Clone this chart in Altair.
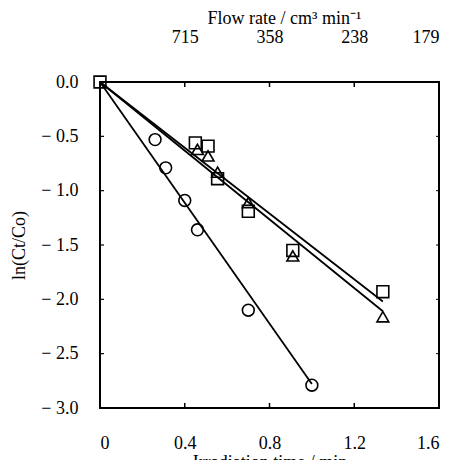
import altair as alt
import pandas as pd

# ---- data ----
circle_t = [0.26, 0.31, 0.40, 0.46, 0.70, 1.00]
circle_y = [-0.53, -0.79, -1.09, -1.36, -2.10, -2.79]

square_t = [0.0, 0.45, 0.51, 0.555, 0.70, 0.91, 1.335]
square_y = [0.0, -0.56, -0.59, -0.89, -1.19, -1.55, -1.93]

triangle_t = [0.46, 0.51, 0.555, 0.70, 0.91, 1.335]
triangle_y = [-0.62, -0.68, -0.83, -1.11, -1.60, -2.16]

fit_series = ["circle", "square", "triangle"]
fit_t_start = [0.0, 0.0, 0.0]
fit_y_start = [0.0, 0.0, 0.0]
fit_t_end = [1.0, 1.335, 1.335]
fit_y_end = [-2.78, -2.02, -2.11]

x_ticks = [0.0, 0.4, 0.8, 1.2, 1.6]
x_tick_labels = ["0", "0.4", "0.8", "1.2", "1.6"]
x_inner_ticks = [0.4, 0.8, 1.2]
y_ticks = [0.0, -0.5, -1.0, -1.5, -2.0, -2.5, -3.0]
y_inner_ticks = [-0.5, -1.0, -1.5, -2.0, -2.5]
flow_tick_t = [0.4, 0.8, 1.2, 1.6]
flow_labels = ["715", "358", "238", "179"]

# ---- tables ----
pts = pd.concat([
    pd.DataFrame({"t": circle_t, "y": circle_y, "s": "circle"}),
    pd.DataFrame({"t": square_t, "y": square_y, "s": "square"}),
    pd.DataFrame({"t": triangle_t, "y": triangle_y, "s": "triangle"}),
], ignore_index=True)

fit_rows = []
for s, t0, y0, t1, y1 in zip(fit_series, fit_t_start, fit_y_start, fit_t_end, fit_y_end):
    fit_rows.append({"s": s, "t": t0, "y": y0, "o": 0})
    fit_rows.append({"s": s, "t": t1, "y": y1, "o": 1})
fits = pd.DataFrame(fit_rows)

xt_df = pd.DataFrame({"t": x_inner_ticks})
yt_df = pd.DataFrame({"y": y_inner_ticks})

W, H = 339, 326
FONT = "Liberation Serif, Times New Roman, serif"
FS = 18

xs = alt.Scale(domain=[0, 1.6], nice=False, zero=False)
ys = alt.Scale(domain=[-3.0, 0.0], nice=False, zero=False)


def lookup_expr(vals, labels):
    expr = "''"
    for v, l in reversed(list(zip(vals, labels))):
        expr = f"abs(datum.value - ({v})) < 1e-6 ? '{l}' : ({expr})"
    return expr


bottom_axis = alt.Axis(
    orient="bottom", values=x_ticks, labelExpr=lookup_expr(x_ticks, x_tick_labels),
    ticks=False, domain=False, grid=False, labelPadding=26,
    title="Irradiation time / min", titlePadding=1,
)
top_axis = alt.Axis(
    orient="top", values=flow_tick_t, labelExpr=lookup_expr(flow_tick_t, flow_labels),
    ticks=False, domain=False, grid=False, labelPadding=36,
    title="Flow rate / cm³ min⁻¹", titlePadding=1, titleX=184,
)
left_axis = alt.Axis(
    orient="left", values=y_ticks,
    labelExpr="datum.value < 0 ? '\u2212 ' + format(-datum.value, '.1f') : format(datum.value, '.1f')",
    ticks=False, domain=False, grid=False, labelPadding=22,
    title="ln(Ct/Co)", titlePadding=12,
)

# inward ticks: bottom (carries the bottom axis)
bottom_ticks = alt.Chart(xt_df).mark_rule(color="black", strokeWidth=1.5).encode(
    x=alt.X("t:Q", scale=xs, axis=bottom_axis),
    y=alt.value(H), y2=alt.value(H - 5),
)
# top ticks (carries the top flow-rate axis)
top_ticks = alt.Chart(xt_df).mark_rule(color="black", strokeWidth=1.5).encode(
    x=alt.X("t:Q", scale=xs, axis=top_axis),
    y=alt.value(0), y2=alt.value(5),
)
# left ticks (carries the y axis)
left_ticks = alt.Chart(yt_df).mark_rule(color="black", strokeWidth=1.2).encode(
    y=alt.Y("y:Q", scale=ys, axis=left_axis),
    x=alt.value(0), x2=alt.value(4),
)
right_ticks = alt.Chart(yt_df).mark_rule(color="black", strokeWidth=1.0).encode(
    y=alt.Y("y:Q", scale=ys, axis=None),
    x=alt.value(W), x2=alt.value(W - 3),
)

lines = alt.Chart(fits).mark_line(color="black", strokeWidth=1.8).encode(
    x=alt.X("t:Q", scale=xs, axis=None),
    y=alt.Y("y:Q", scale=ys, axis=None),
    detail="s:N",
    order="o:Q",
)

points = alt.Chart(pts).mark_point(
    filled=False, color="black", strokeWidth=1.6, size=140, opacity=1
).encode(
    x=alt.X("t:Q", scale=xs, axis=None),
    y=alt.Y("y:Q", scale=ys, axis=None),
    shape=alt.Shape(
        "s:N",
        scale=alt.Scale(domain=["circle", "square", "triangle"],
                        range=["circle", "square", "triangle-up"]),
        legend=None,
    ),
)

chart = alt.layer(
    lines, points, bottom_ticks, top_ticks, left_ticks, right_ticks
).resolve_axis(
    x="independent", y="independent"
).properties(
    width=W, height=H,
    autosize=alt.AutoSizeParams(type="none"),
    padding={"left": 92, "top": 74, "right": 7, "bottom": 52},
    background="white",
).configure_view(
    stroke="black", strokeWidth=2,
).configure_axis(
    labelFont=FONT, labelFontSize=FS, labelColor="black",
    titleFont=FONT, titleFontSize=FS, titleFontWeight="normal", titleColor="black",
)

chart.save("out.html", embed_options={"renderer": "svg", "actions": False})
